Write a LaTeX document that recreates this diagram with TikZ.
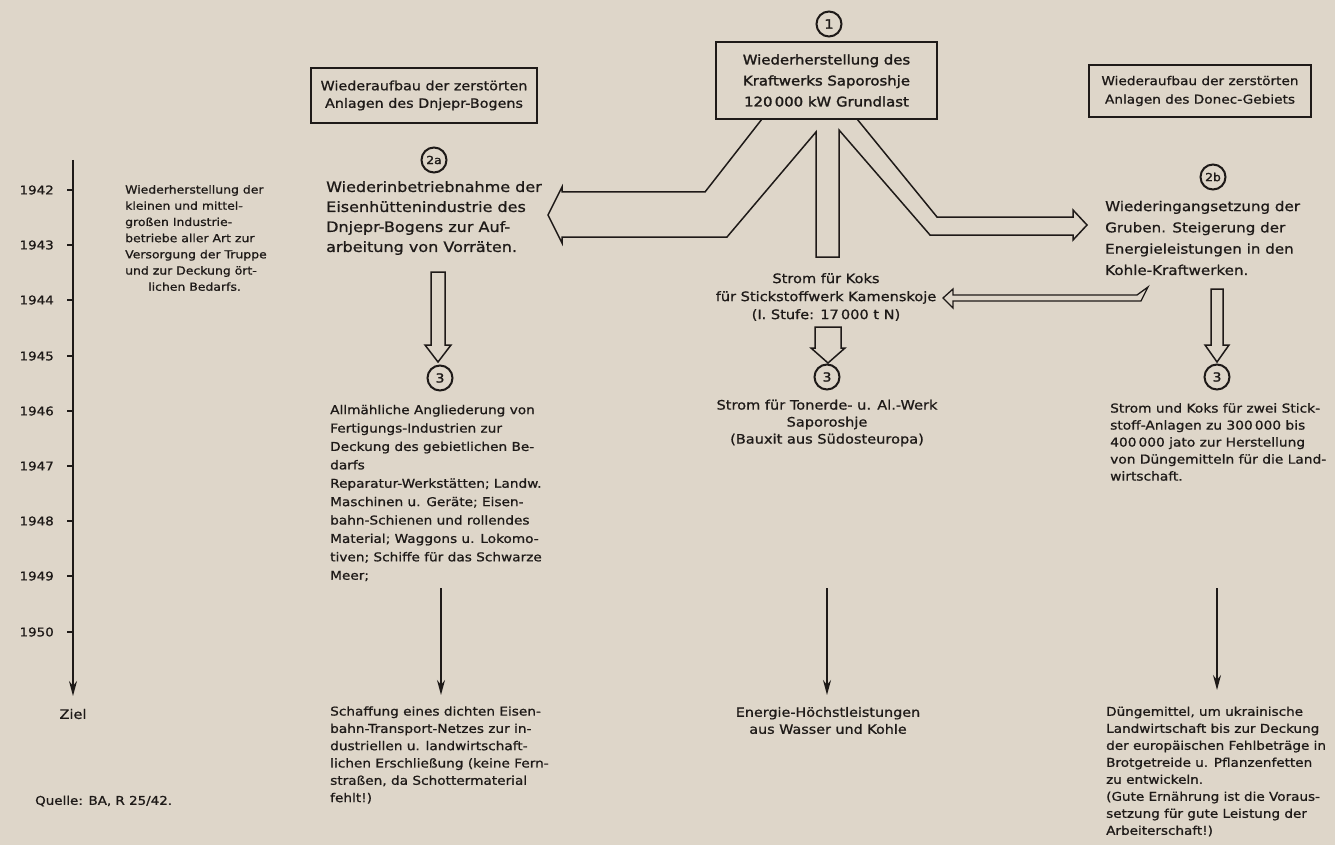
\documentclass[tikz,border=0pt]{standalone}
\usepackage{fontspec}
\setmainfont{DejaVu Sans}[FakeStretch=1.12,FakeBold=0.9]
\newfontfamily\heavyfont{DejaVu Sans}[FakeStretch=1.12,FakeBold=1.8]
\usetikzlibrary{arrows.meta}
\definecolor{paper}{RGB}{222,214,201}
\definecolor{ink}{RGB}{30,26,24}
\newcommand\fz[2]{\fontsize{#1}{#2}\selectfont}
\begin{document}
\begin{tikzpicture}[x=1pt,y=-1pt,
  box/.style={draw=ink, line width=1.6pt, fill=paper, inner sep=0pt, align=center, text=ink},
  hollow/.style={draw=ink, line width=1.5pt, fill=paper, line join=miter},
  num/.style={circle, draw=ink, line width=2pt, minimum size=25pt, inner sep=0pt, text=ink, fill=paper},
  txt/.style={text=ink, inner sep=0pt, align=left, anchor=west},
  ctxt/.style={text=ink, inner sep=0pt, align=center},
  thin/.style={draw=ink, line width=1.5pt, -{Stealth[length=15pt,width=8pt]}},
  tick/.style={draw=ink, line width=1.2pt},
  year/.style={text=ink, anchor=east, inner sep=0pt, font=\fz{12}{12}}
]
\fill[paper] (0,0) rectangle (1335,845);
\useasboundingbox (0,0) rectangle (1335,845);

% big hollow arrows from the main box
\draw[hollow] (762,119) -- (705,192) -- (562,192) -- (562,187) -- (548,215) -- (562,243) -- (562,237)
  -- (727,237) -- (816,132) -- (816,257) -- (839,257) -- (839,130) -- (930,235) -- (1073,235)
  -- (1073,240) -- (1087,225) -- (1073,210) -- (1073,217) -- (937,217) -- (857,119);

% main box
\node[box, minimum width=221pt, minimum height=77pt, font=\heavyfont\fz{13.3}{21}] (main) at (826.5,80.5)
  {Wiederherstellung des\\Kraftwerks Saporoshje\\120\,000 kW Grundlast};
\node[num, font=\heavyfont\fz{13}{13}] (c1) at (829,24) {1};

% side boxes
\node[box, minimum width=226pt, minimum height=55pt, font=\fz{12.8}{17.5}] (lbox) at (424,95.5)
  {Wiederaufbau der zerstörten\\Anlagen des Dnjepr-Bogens};
\node[box, minimum width=222pt, minimum height=52pt, font=\fz{12.2}{18.5}] (rbox) at (1200,91)
  {Wiederaufbau der zerstörten\\Anlagen des Donec-Gebiets};

% 2a / 2b
\node[num, font=\heavyfont\fz{11}{11}] (c2a) at (434,160) {2a};
\node[txt, font=\fz{14.3}{20}] (t2a) at (326,218)
  {Wiederinbetriebnahme der\\Eisenhüttenindustrie des\\Dnjepr-Bogens zur Auf-\\arbeitung von Vorräten.};
\node[num, font=\heavyfont\fz{11}{11}] (c2b) at (1213,177) {2b};
\node[txt, font=\fz{13.5}{21.3}] (t2b) at (1105,238)
  {Wiederingangsetzung der\\Gruben. Steigerung der\\Energieleistungen in den\\Kohle-Kraftwerken.};

% narrow arrow to Koks
\draw[hollow, line width=1.3pt] (953,295) -- (1137,295) -- (1148,287) -- (1141,301) -- (953,301)
  -- (953,308) -- (943,298) -- (953,289) -- cycle;
\node[ctxt, font=\fz{13}{18}] (koks) at (826,297)
  {Strom für Koks\\für Stickstoffwerk Kamenskoje\\(I. Stufe: 17\,000 t N)};

% small hollow down arrows
\draw[hollow] (431,272) -- (431,345) -- (425,345) -- (438,362) -- (451,345) -- (445,345) -- (445,272) -- cycle;
\draw[hollow] (815,327) -- (815,348) -- (811,348) -- (828,363) -- (845,348) -- (841,348) -- (841,327) -- cycle;
\draw[hollow] (1211,289) -- (1211,345) -- (1205,345) -- (1217,362) -- (1229,345) -- (1223,345) -- (1223,289) -- cycle;

\node[num, font=\heavyfont\fz{12.5}{12}] (c3a) at (440,378) {3};
\node[num, font=\heavyfont\fz{12.5}{12}] (c3b) at (827,377) {3};
\node[num, font=\heavyfont\fz{12.5}{12}] (c3c) at (1217,377) {3};

% stage 3 texts
\node[txt, font=\fz{12.2}{18.4}] (t3a) at (330,493)
  {Allmähliche Angliederung von\\Fertigungs-Industrien zur\\Deckung des gebietlichen Be-\\darfs\\Reparatur-Werkstätten; Landw.\\Maschinen u. Geräte; Eisen-\\bahn-Schienen und rollendes\\Material; Waggons u. Lokomo-\\tiven; Schiffe für das Schwarze\\Meer;};
\node[ctxt, font=\fz{13}{17}] (t3b) at (827,423)
  {Strom für Tonerde- u. Al.-Werk\\Saporoshje\\(Bauxit aus Südosteuropa)};
\node[txt, font=\fz{12.3}{17}] (t3c) at (1110,442)
  {Strom und Koks für zwei Stick-\\stoff-Anlagen zu 300\,000 bis\\400\,000 jato zur Herstellung\\von Düngemitteln für die Land-\\wirtschaft.};

% thin arrows to goals
\coordinate (a1s) at (441,588); \coordinate (a1e) at (441,695);
\coordinate (a2s) at (827,588); \coordinate (a2e) at (827,695);
\coordinate (a3s) at (1217,588); \coordinate (a3e) at (1217,690);
\draw[thin] (a1s) -- (a1e);
\draw[thin] (a2s) -- (a2e);
\draw[thin] (a3s) -- (a3e);

% goal texts
\node[txt, font=\fz{12.2}{17.3}] (za) at (330,755)
  {Schaffung eines dichten Eisen-\\bahn-Transport-Netzes zur in-\\dustriellen u. landwirtschaft-\\lichen Erschließung (keine Fern-\\straßen, da Schottermaterial\\fehlt!)};
\node[ctxt, font=\fz{12.8}{17}] (zb) at (828,720.5)
  {Energie-Höchstleistungen\\aus Wasser und Kohle};
\node[txt, font=\fz{12.1}{17}] (zc) at (1106,771.5)
  {Düngemittel, um ukrainische\\Landwirtschaft bis zur Deckung\\der europäischen Fehlbeträge in\\Brotgetreide u. Pflanzenfetten\\zu entwickeln.\\(Gute Ernährung ist die Voraus-\\setzung für gute Leistung der\\Arbeiterschaft!)};

% left description
\node[txt, font=\fz{11.1}{16.2}] (desc) at (125,238)
  {Wiederherstellung der\\kleinen und mittel-\\großen Industrie-\\betriebe aller Art zur\\Versorgung der Truppe\\und zur Deckung ört-\\\hspace*{23pt}lichen Bedarfs.};

% timeline
\coordinate (tl0) at (73,160); \coordinate (tl1) at (73,696);
\draw[draw=ink, line width=1.6pt, -{Stealth[length=15pt,width=8pt]}] (tl0) -- (tl1);
\foreach \yr/\yy in {1942/190,1943/245,1944/300,1945/356,1946/411,1947/466,1948/521,1949/576,1950/632}{
  \draw[tick] (67,\yy) -- (73,\yy);
  \node[year] at (54,\yy) {\yr};
}
\node[text=ink, font=\fz{13}{13}] (ziel) at (73,714) {Ziel};
\node[txt, font=\fz{12}{14}] (quelle) at (35,801) {Quelle: BA, R 25/42.};
\end{tikzpicture}
\end{document}
